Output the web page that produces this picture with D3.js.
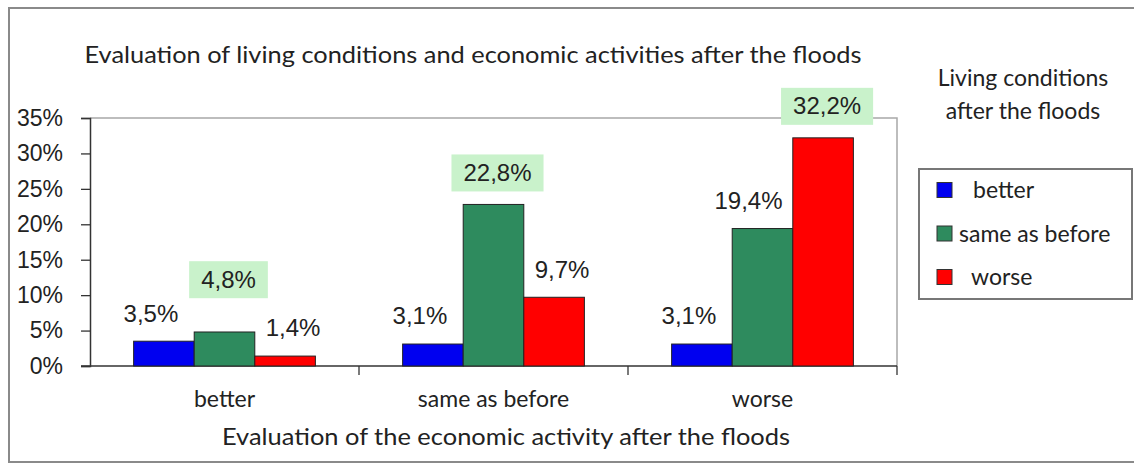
<!DOCTYPE html>
<html>
<head>
<meta charset="utf-8">
<script src="https://cdn.jsdelivr.net/npm/d3@7"></script>
<style>
  body { margin: 0; background: #fff; }
  svg { display: block; }
</style>
</head>
<body>
<svg id="chart" width="1134" height="464"></svg>
<script>
// Kategorien (x-Achse) und Reihen (Legende)
var categories = ["better", "same as before", "worse"];
var seriesNames = ["better", "same as before", "worse"];
var seriesColors = ["#0000f0", "#2e8b5e", "#ff0000"];
// Werte in Prozent, je Kategorie eine Zeile, je Reihe eine Spalte
var betterValues = [3.5, 4.8, 1.4];
var sameValues = [3.1, 22.8, 9.7];
var worseValues = [3.1, 19.4, 32.2];
var yTicks = [0, 5, 10, 15, 20, 25, 30, 35];

var values = [betterValues, sameValues, worseValues];

var svg = d3.select("#chart");
var plot = { left: 90, right: 897, top: 118, bottom: 366 };
var textFont = "Lato, 'Open Sans', sans-serif";
var numFont = "'Liberation Sans', Arial, sans-serif";

// Rahmen um alles
svg.append("rect")
  .attr("x", 9).attr("y", 8)
  .attr("width", 1140).attr("height", 454)
  .attr("fill", "none").attr("stroke", "#8a8a8a").attr("stroke-width", 2);

// Titel
svg.append("text")
  .attr("x", 473).attr("y", 63)
  .attr("text-anchor", "middle")
  .attr("font-family", textFont)
  .attr("font-size", 24)
  .attr("fill", "#222")
  .attr("textLength", 777).attr("lengthAdjust", "spacingAndGlyphs")
  .text("Evaluation of living conditions and economic activities after the floods");

// Skalen
var x0 = d3.scaleBand().domain(categories).range([plot.left, plot.right]).padding(0);
var x1 = d3.scaleBand().domain(seriesNames).range([0, x0.bandwidth()])
  .paddingInner(0).paddingOuter(0.72);
var y = d3.scaleLinear().domain([0, 35]).range([plot.bottom, plot.top]);

// Plotrahmen oben und rechts
svg.append("path")
  .attr("d", "M" + plot.left + "," + y(35) + "H" + plot.right + "V" + y(0))
  .attr("fill", "none").attr("stroke", "#a8a8a8").attr("stroke-width", 1.5);

// y-Achse
var yAxis = svg.append("g")
  .attr("transform", "translate(" + plot.left + ",0)")
  .call(d3.axisLeft(y).tickValues(yTicks).tickSize(9).tickPadding(18)
    .tickFormat(function(d){ return d + "%"; }));
yAxis.select(".domain").attr("stroke", "#333").attr("stroke-width", 1.5);
yAxis.selectAll(".tick line").attr("stroke", "#333").attr("stroke-width", 1.3);
yAxis.selectAll(".tick text")
  .attr("font-family", numFont)
  .attr("font-size", 23).attr("fill", "#222");

// x-Achse: Striche an den Kategoriegrenzen
var xAxis = svg.append("g")
  .attr("transform", "translate(0," + plot.bottom + ")");
xAxis.append("line")
  .attr("x1", plot.left - 9).attr("x2", plot.right)
  .attr("stroke", "#333").attr("stroke-width", 1.5);
var bounds = categories.map(function(c){ return x0(c); }).concat([x0(categories[2]) + x0.bandwidth()]);
xAxis.selectAll(".xt").data(bounds.slice(1)).enter().append("line")
  .attr("x1", function(d){ return d; }).attr("x2", function(d){ return d; })
  .attr("y1", 0).attr("y2", 9)
  .attr("stroke", "#333").attr("stroke-width", 1.3);
xAxis.selectAll(".xl").data(categories).enter().append("text")
  .attr("x", function(d){ return x0(d) + x0.bandwidth() / 2; })
  .attr("y", 41)
  .attr("text-anchor", "middle")
  .attr("font-family", textFont)
  .attr("font-size", 23).attr("fill", "#222")
  .text(function(d){ return d; });

// x-Achsentitel
svg.append("text")
  .attr("x", 506).attr("y", 445)
  .attr("text-anchor", "middle")
  .attr("font-family", textFont)
  .attr("font-size", 23).attr("fill", "#222")
  .attr("textLength", 568).attr("lengthAdjust", "spacingAndGlyphs")
  .text("Evaluation of the economic activity after the floods");

// Balken
var groups = svg.selectAll(".grp").data(categories).enter().append("g")
  .attr("transform", function(d){ return "translate(" + x0(d) + ",0)"; });

groups.selectAll("rect")
  .data(function(c, i){ return values[i].map(function(v, j){ return { s: seriesNames[j], v: v, j: j }; }); })
  .enter().append("rect")
  .attr("x", function(d){ return x1(d.s); })
  .attr("y", function(d){ return y(d.v); })
  .attr("width", x1.bandwidth())
  .attr("height", function(d){ return y(0) - y(d.v); })
  .attr("fill", function(d){ return seriesColors[d.j]; })
  .attr("stroke", "#222").attr("stroke-width", 1);

// Datenbeschriftungen
var labelDx = [-13, -14, 8];
groups.each(function(c, i){
  var g = d3.select(this);
  var vals = values[i];
  var maxJ = vals.indexOf(d3.max(vals));
  var ys = vals.map(function(v){ return y(v) - 28; });
  vals.forEach(function(v, j){
    var cx = x1(seriesNames[j]) + x1.bandwidth() / 2 + labelDx[j];
    var cy = ys[j];
    var txt = v.toFixed(1).replace(".", ",") + "%";
    if (j === maxJ) {
      // höchster Wert der Kategorie: grün hinterlegt, über den Nachbarn
      var others = ys.filter(function(_, k){ return k !== j; });
      cx = x1(seriesNames[j]) + x1.bandwidth() / 2 + 4;
      cy = Math.min(y(v) - 32, d3.min(others) - 34);
      var t = g.append("text");
      t.attr("x", cx).attr("y", cy).attr("dy", "0.35em")
        .attr("text-anchor", "middle")
        .attr("font-family", numFont)
        .attr("font-size", 24).attr("fill", "#222").text(txt);
      var w = t.node().getComputedTextLength();
      g.insert("rect", "text")
        .attr("x", cx - w / 2 - 12).attr("y", cy - 18)
        .attr("width", w + 24).attr("height", 37)
        .attr("fill", "#c9f2cb");
    } else {
      g.append("text")
        .attr("x", cx).attr("y", cy).attr("dy", "0.35em")
        .attr("text-anchor", "middle")
        .attr("font-family", numFont)
        .attr("font-size", 24).attr("fill", "#222").text(txt);
    }
  });
});

// Legende
var legTitle = svg.append("text")
  .attr("text-anchor", "middle")
  .attr("font-family", textFont)
  .attr("font-size", 23).attr("fill", "#222");
legTitle.append("tspan").attr("x", 1023).attr("y", 86).text("Living conditions");
legTitle.append("tspan").attr("x", 1023).attr("y", 119).text("after the floods");

svg.append("rect")
  .attr("x", 919).attr("y", 169).attr("width", 213).attr("height", 130)
  .attr("fill", "#fff").attr("stroke", "#777").attr("stroke-width", 2);

var legendY = d3.scalePoint().domain(seriesNames).range([190, 277]);
var legendTextX = [973, 959, 971];
var leg = svg.selectAll(".leg").data(seriesNames).enter().append("g");
leg.append("rect")
  .attr("x", 937).attr("y", function(d){ return legendY(d) - 7.5; })
  .attr("width", 15).attr("height", 15)
  .attr("fill", function(d, i){ return seriesColors[i]; })
  .attr("stroke", "#333").attr("stroke-width", 1);
leg.append("text")
  .attr("x", function(d, i){ return legendTextX[i]; })
  .attr("y", function(d){ return legendY(d); })
  .attr("dy", "0.35em")
  .attr("font-family", textFont)
  .attr("font-size", 23).attr("fill", "#222")
  .text(function(d){ return d; });
</script>
</body>
</html>
